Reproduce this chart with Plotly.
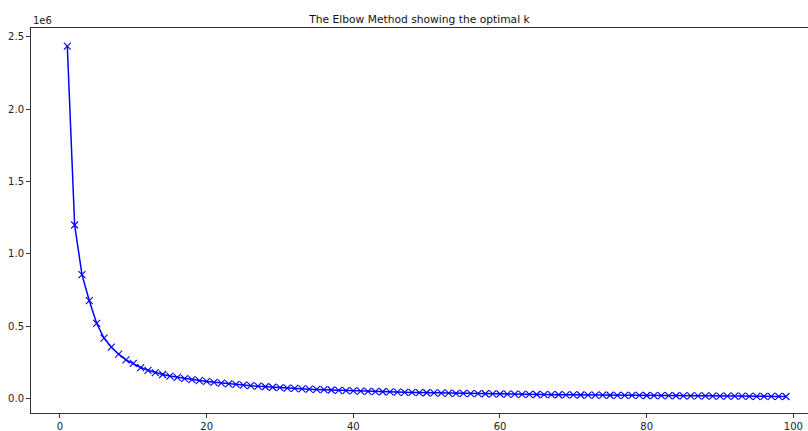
import plotly.graph_objects as go

k_values = list(range(1, 100))
distortions = [
    2434000, 1200000, 858000, 678000, 522000, 420000, 358000, 309000, 270000, 245000,
    217000, 198000, 182000, 169000, 158000, 149000, 140000, 133000, 127000, 121000,
    115000, 110000, 105000, 100500, 96000, 91500, 88000, 84500, 81000, 78000,
    75500, 73000, 70500, 68000, 66000, 64000, 62000, 60000, 58000, 56000,
    54500, 53000, 51500, 50000, 48600, 47400, 46200, 45000, 44000, 43000,
    42000, 41100, 40200, 39300, 38500, 37700, 36900, 36100, 35300, 34500,
    33800, 33100, 32400, 31700, 31000, 30400, 29800, 29200, 28600, 28000,
    27500, 27100, 26600, 26200, 25800, 25400, 25000, 24700, 24300, 24000,
    23600, 23200, 22800, 22400, 22000, 21600, 21200, 20800, 20400, 20000,
    19700, 19400, 19100, 18800, 18500, 18200, 17900, 17500, 17200,
]
x_ticks = [0, 20, 40, 60, 80, 100]
y_ticks = [0, 500000, 1000000, 1500000, 2000000, 2500000]
y_tick_labels = ["0.0", "0.5", "1.0", "1.5", "2.0", "2.5"]
title_text = "The Elbow Method showing the optimal k"

font = "DejaVu Sans, sans-serif"

fig = go.Figure()
fig.add_trace(go.Scatter(
    x=k_values, y=distortions, mode="lines+markers",
    line=dict(color="#0000ff", width=1.5),
    marker=dict(symbol="x-thin", size=7, line=dict(color="#0000ff", width=1.1), color="#0000ff"),
    showlegend=False,
))

fig.update_layout(
    width=808, height=431,
    margin=dict(l=31, r=0, t=28, b=18),
    paper_bgcolor="white", plot_bgcolor="white",
    font=dict(family=font, size=10, color="#222"),
    title=dict(text=title_text, x=0.5, xref="paper", xanchor="center",
               y=1 - 19 / 431, yanchor="middle", font=dict(size=10.7, color="#111")),
    xaxis=dict(range=[-3.95, 102.0], tickvals=x_ticks, showgrid=False, zeroline=False,
               showline=True, mirror=True, linecolor="#333", linewidth=1,
               ticks="outside", ticklen=4, tickcolor="#333", tickfont=dict(size=10)),
    yaxis=dict(range=[-96600, 2558600], tickvals=y_ticks, ticktext=y_tick_labels,
               showgrid=False, zeroline=False, showline=True, mirror=False,
               linecolor="#333", linewidth=1, ticks="outside", ticklen=4, tickcolor="#333",
               tickfont=dict(size=10)),
    annotations=[dict(text="1e6", xref="paper", yref="paper", x=0, y=1,
                      xanchor="left", yanchor="bottom", yshift=0, showarrow=False,
                      font=dict(size=10, color="#222"))],
)

fig.write_html("out.html")
